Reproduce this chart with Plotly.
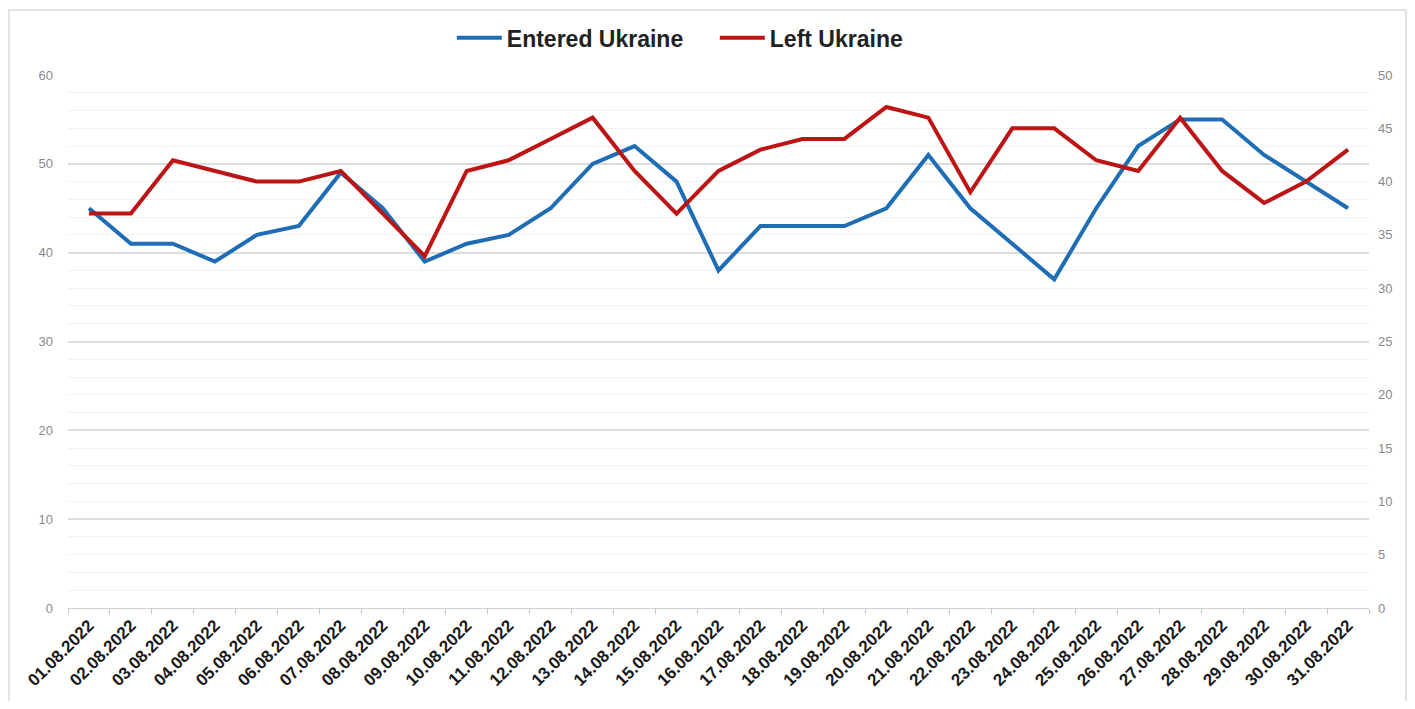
import plotly.graph_objects as go

dates = [f"{d:02d}.08.2022" for d in range(1, 32)]
entered = [45, 41, 41, 39, 42, 43, 49, 45, 39, 41, 42, 45, 50, 52, 48, 38,
           43, 43, 43, 45, 51, 45, 41, 37, 45, 52, 55, 55, 51, 48, 45]
left = [37, 37, 42, 41, 40, 40, 41, 37, 33, 41, 42, 44, 46, 41, 37, 41,
        43, 44, 44, 47, 46, 39, 45, 45, 42, 41, 46, 41, 38, 40, 43]

left_ticks = [0, 10, 20, 30, 40, 50, 60]
right_ticks = [0, 5, 10, 15, 20, 25, 30, 35, 40, 45, 50]

fig = go.Figure()
fig.add_trace(go.Scatter(x=dates, y=entered, name="Entered Ukraine", mode="lines",
                         line=dict(color="#1f6db4", width=4), yaxis="y"))
fig.add_trace(go.Scatter(x=dates, y=left, name="Left Ukraine", mode="lines",
                         line=dict(color="#bd1515", width=4), yaxis="y2"))

tickfont = dict(family="Liberation Sans, Arial", size=13, color="#8a8a8a")
fig.update_layout(
    width=1399, height=693,
    paper_bgcolor="white", plot_bgcolor="white",
    margin=dict(l=60, r=38, t=67, b=93, autoexpand=False),
    showlegend=True,
    legend=dict(orientation="h", x=0.295, y=1.07, xanchor="left", yanchor="middle",
                font=dict(family="Liberation Sans, Arial", size=23, color="#222222", weight="bold"),
                itemwidth=45, entrywidth=203, traceorder="normal"),
    xaxis=dict(type="category", tickangle=-45, showgrid=False, automargin=False,
               tickfont=dict(family="Liberation Sans, Arial", size=17, color="#1a1a1a", weight="bold"),
               ticks="outside", tickson="boundaries", ticklen=5, tickcolor="#c8c8c8",
               showline=True, linecolor="#d0d0d0", linewidth=1,
               range=[-0.5, 30.5]),
    yaxis=dict(range=[0, 60], tickvals=left_ticks, showgrid=True, gridcolor="#dcdcdc",
               gridwidth=1.5, zeroline=False, tickfont=tickfont, ticks="", ticklabelstandoff=14,
               automargin=False,
               minor=dict(dtick=2, showgrid=True, gridcolor="#f1f1f1", gridwidth=1)),
    yaxis2=dict(range=[0, 50], tickvals=right_ticks, overlaying="y", side="right",
                showgrid=False, zeroline=False, tickfont=tickfont, ticklabelstandoff=8,
                automargin=False),
    shapes=[dict(type="rect", xref="paper", yref="paper", x0=-0.0453, x1=1.0284,
                 y0=-0.2, y1=1.122, line=dict(color="#d9d9d9", width=1.5), layer="below")],
)

fig.write_html("out.html")
